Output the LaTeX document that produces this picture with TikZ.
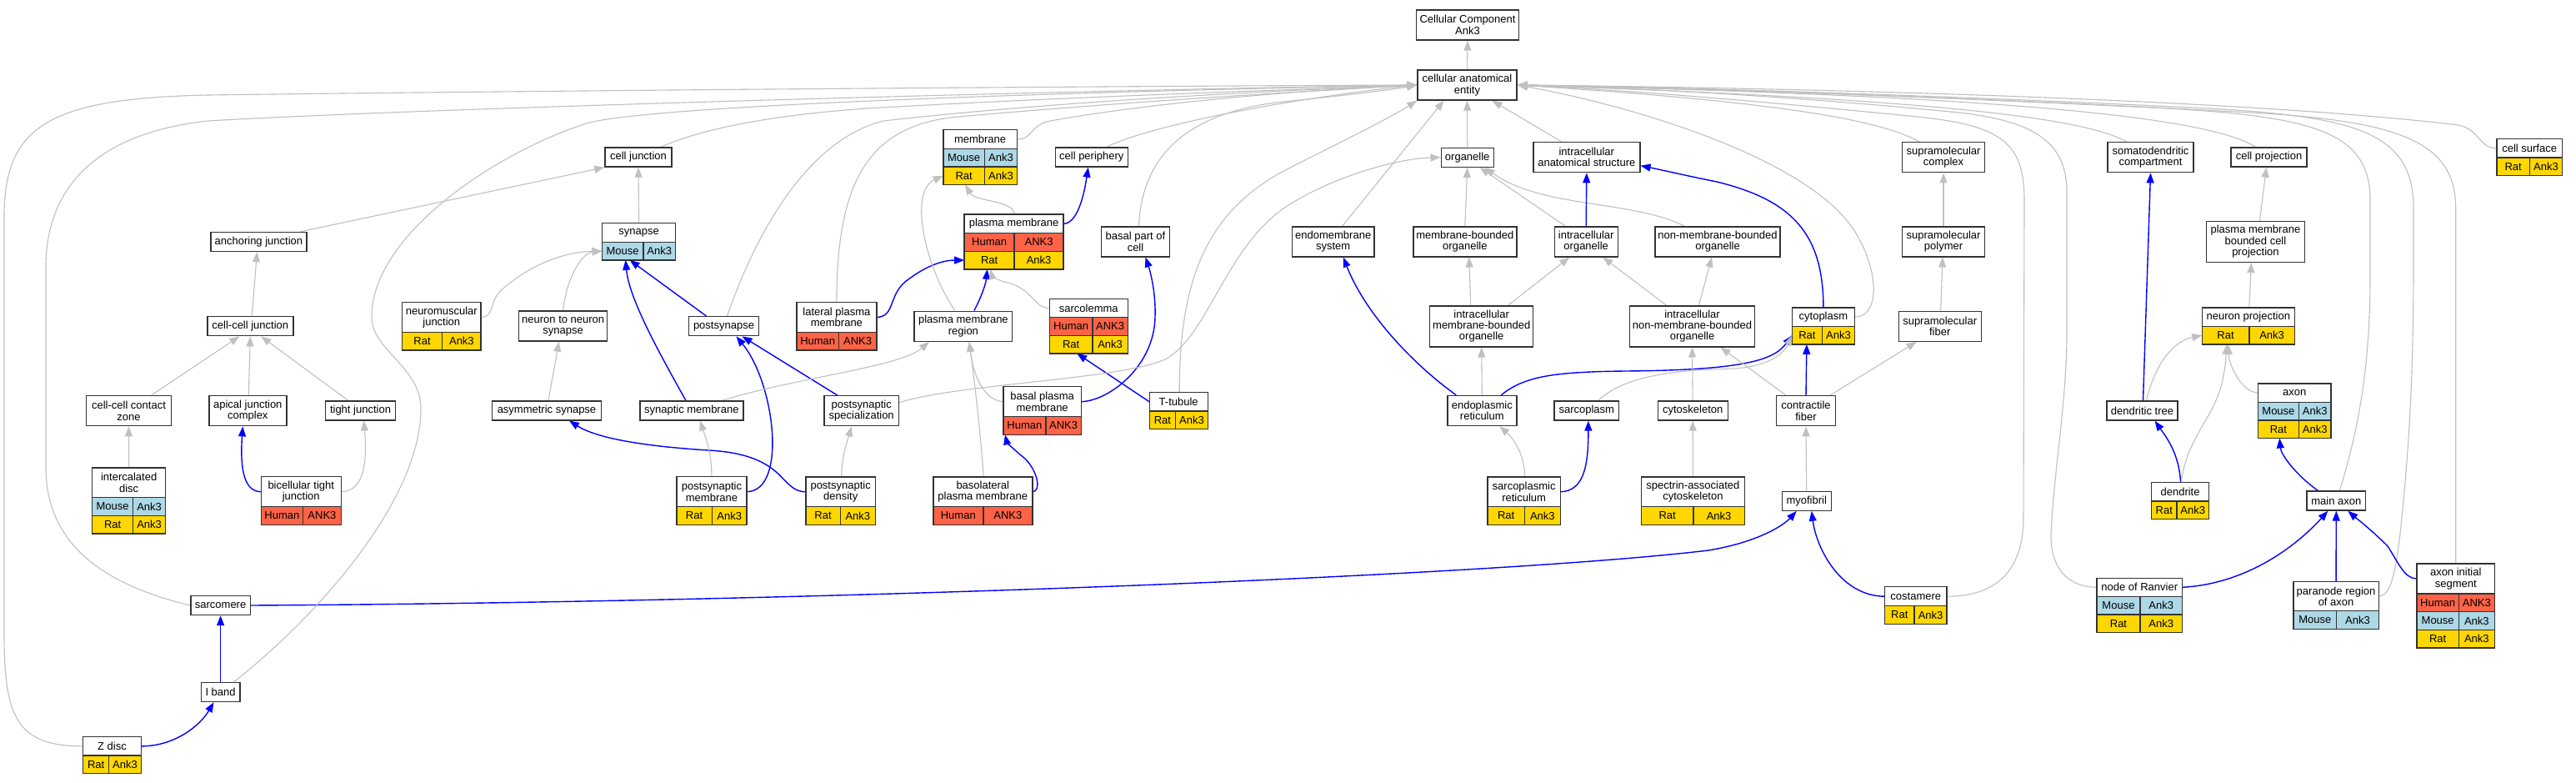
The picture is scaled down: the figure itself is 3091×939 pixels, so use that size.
\documentclass[tikz,border=0pt]{standalone}
\usepackage{fontspec}
\setmainfont{Liberation Sans}
\usetikzlibrary{arrows.meta,calc}
\definecolor{bord}{HTML}{333333}
\definecolor{edgegray}{HTML}{C0C0C0}
\definecolor{mouse}{HTML}{ADD8E6}
\definecolor{rat}{HTML}{FFD700}
\definecolor{human}{HTML}{FF6347}
\definecolor{eblue}{HTML}{0000FF}
\newcommand{\lbl}{\fontsize{13}{13.3}\selectfont}
\def\rowh{21.6}
\pgfdeclarelayer{bg}
\pgfdeclarelayer{edges}
\pgfsetlayers{bg,edges,main}
\tikzset{
 box/.style={draw=bord, line width=1.4pt, fill=white, inner sep=0pt, align=center, font=\lbl},
 txt/.style={inner sep=0pt, align=center, font=\lbl},
 cellbox/.style={draw=bord, line width=1.4pt},
 isa/.style={draw=edgegray, line width=1.1pt, -{Triangle[length=12pt,width=9pt]}},
 partof/.style={draw=eblue, line width=1.4pt, -{Triangle[length=12pt,width=9pt]}},
}
% name, left, right, top, header height, header text, split x, rows
\newcommand{\tbl}[8]{%
 \foreach [count=\k] \x in {#8} {\xdef\mynr{\k}}%
 \pgfmathsetmacro{\mybot}{#4+#5+\mynr*\rowh}%
 \pgfmathsetmacro{\myw}{#3-#2}%
 \pgfmathsetmacro{\myh}{#5+\mynr*\rowh}%
 \node[inner sep=0pt, outer sep=0pt, minimum width=\myw, minimum height=\myh, anchor=north west] (#1) at (#2,#4) {};%
 \fill[white] (#2,#4) rectangle (#3,{#4+#5});%
 \node[txt] at ({(#2+#3)/2},{#4+#5/2}) {#6};%
 \coordinate (#1-w0) at (#2,{#4+#5/2});%
 \coordinate (#1-e0) at (#3,{#4+#5/2});%
 \foreach [count=\i] \spc/\gnm/\clr in {#8} {%
   \pgfmathsetmacro{\ya}{#4+#5+(\i-1)*\rowh}%
   \pgfmathsetmacro{\yb}{\ya+\rowh}%
   \filldraw[cellbox, fill=\clr] (#2,\ya) rectangle (#7,\yb);%
   \filldraw[cellbox, fill=\clr] (#7,\ya) rectangle (#3,\yb);%
   \node[txt] at ({(#2+#7)/2},{(\ya+\yb)/2}) {\spc};%
   \node[txt] at ({(#7+#3)/2},{(\ya+\yb)/2}) {\gnm};%
   \coordinate (#1-w\i) at (#2,{(\ya+\yb)/2});%
   \coordinate (#1-e\i) at (#3,{(\ya+\yb)/2});%
 }%
 \draw[cellbox] (#2,#4) rectangle (#3,\mybot);%
}
\begin{document}
\begin{tikzpicture}[x=1pt,y=-1pt]
\useasboundingbox (0,0) rectangle (3091,939);
\begin{pgfonlayer}{bg}
\fill[white] (0,0) rectangle (3091,939);
\end{pgfonlayer}

% ---------- simple nodes ----------
\node[box, minimum width=123, minimum height=36] (cc) at (1761,30) {Cellular Component\\Ank3};
\node[box, minimum width=119, minimum height=36] (cae) at (1760.5,102) {cellular anatomical\\entity};
\node[box, minimum width=80, minimum height=23] (celljunction) at (766,188.5) {cell junction};
\node[box, minimum width=115, minimum height=23] (anchoring) at (310.4,290) {anchoring junction};
\node[box, minimum width=103, minimum height=23] (cellcell) at (300.3,391.2) {cell-cell junction};
\node[box, minimum width=102, minimum height=36] (contactzone) at (154.5,492.7) {cell-cell contact\\zone};
\node[box, minimum width=93, minimum height=36] (apical) at (297.3,492.7) {apical junction\\complex};
\node[box, minimum width=84, minimum height=23] (tight) at (432.5,492.3) {tight junction};
\node[box, minimum width=106, minimum height=36] (nnsyn) at (675.7,391) {neuron to neuron\\synapse};
\node[box, minimum width=84, minimum height=23] (postsynapse) at (868.5,391.2) {postsynapse};
\node[box, minimum width=131, minimum height=23] (asym) at (656,492.3) {asymmetric synapse};
\node[box, minimum width=124, minimum height=23] (synmem) at (829.8,492.3) {synaptic membrane};
\node[box, minimum width=89.5, minimum height=36] (psspec) at (1033.7,492.7) {postsynaptic\\specialization};
\node[box, minimum width=87, minimum height=23] (cellperiph) at (1309.8,188.5) {cell periphery};
\node[box, minimum width=82, minimum height=36] (basalpart) at (1362.5,289.8) {basal part of\\cell};
\node[box, minimum width=117.5, minimum height=36] (pmregion) at (1155.9,391.2) {plasma membrane\\region};
\node[box, minimum width=63, minimum height=23] (organelle) at (1760.7,188.7) {organelle};
\node[box, minimum width=128, minimum height=36] (ias) at (1903.8,188.7) {intracellular\\anatomical structure};
\node[box, minimum width=98.7, minimum height=36] (endomem) at (1599.7,289.8) {endomembrane\\system};
\node[box, minimum width=124, minimum height=36] (mbo) at (1757.8,289.8) {membrane-bounded\\organelle};
\node[box, minimum width=76, minimum height=36] (io) at (1903.2,289.8) {intracellular\\organelle};
\node[box, minimum width=150, minimum height=36] (nmbo) at (2061,289.8) {non-membrane-bounded\\organelle};
\node[box, minimum width=124, minimum height=49] (imbo) at (1777.7,391.3) {intracellular\\membrane-bounded\\organelle};
\node[box, minimum width=150, minimum height=49] (inmbo) at (2030.5,391.3) {intracellular\\non-membrane-bounded\\organelle};
\node[box, minimum width=99, minimum height=36] (supcomplex) at (2332,188.7) {supramolecular\\complex};
\node[box, minimum width=99, minimum height=36] (suppolymer) at (2332,289.8) {supramolecular\\polymer};
\node[box, minimum width=99, minimum height=36] (supfiber) at (2327.7,391.2) {supramolecular\\fiber};
\node[box, minimum width=103, minimum height=36] (somato) at (2580.5,188.7) {somatodendritic\\compartment};
\node[box, minimum width=91, minimum height=23] (cellproj) at (2722.5,188.5) {cell projection};
\node[box, minimum width=118, minimum height=49] (pmbcp) at (2706.4,289.8) {plasma membrane\\bounded cell\\projection};
\node[box, minimum width=83, minimum height=36] (er) at (1778.3,492.5) {endoplasmic\\reticulum};
\node[box, minimum width=77.7, minimum height=23] (sarcoplasm) at (1903.8,492.5) {sarcoplasm};
\node[box, minimum width=84, minimum height=23] (cytoskeleton) at (2031.2,492.5) {cytoskeleton};
\node[box, minimum width=70.7, minimum height=36] (contractile) at (2167,492.7) {contractile\\fiber};
\node[box, minimum width=59, minimum height=23] (myofibril) at (2167.7,600.7) {myofibril};
\node[box, minimum width=85, minimum height=23] (dtree) at (2570.5,492.5) {dendritic tree};
\node[box, minimum width=70.6, minimum height=23] (mainaxon) at (2803.3,600.5) {main axon};
\node[box, minimum width=71.5, minimum height=23] (sarcomere) at (264.6,726) {sarcomere};
\node[box, minimum width=46.5, minimum height=23] (iband) at (264.6,830) {I band};

% ---------- table nodes ----------
\tbl{membrane}{1131.8}{1220.4}{155.7}{22.6}{membrane}{1181.4}{Mouse/Ank3/mouse, Rat/Ank3/rat}
\tbl{plasmamem}{1157.1}{1276.1}{257}{22.7}{plasma membrane}{1217.1}{Human/ANK3/human, Rat/Ank3/rat}
\tbl{sarcolemma}{1259.3}{1353.2}{358.7}{22}{sarcolemma}{1311}{Human/ANK3/human, Rat/Ank3/rat}
\tbl{lateralpm}{956}{1051.8}{362.7}{35.6}{lateral plasma\\membrane}{1006.4}{Human/ANK3/human}
\tbl{synapse}{722.5}{810.7}{267.7}{22.6}{synapse}{771.8}{Mouse/Ank3/mouse}
\tbl{nmj}{482.5}{577.1}{362.7}{35.6}{neuromuscular\\junction}{530.7}{Rat/Ank3/rat}
\tbl{intercalated}{110.7}{198.6}{561}{35.7}{intercalated\\disc}{159.6}{Mouse/Ank3/mouse, Rat/Ank3/rat}
\tbl{bicellular}{313.2}{409.3}{571.7}{36}{bicellular tight\\junction}{363.6}{Human/ANK3/human}
\tbl{psmem}{811.8}{896.1}{571.7}{36}{postsynaptic\\membrane}{854.3}{Rat/Ank3/rat}
\tbl{psd}{966.8}{1050.5}{572}{35.7}{postsynaptic\\density}{1008.2}{Rat/Ank3/rat}
\tbl{basalpm}{1204}{1297.3}{463.7}{36}{basal plasma\\membrane}{1254.8}{Human/ANK3/human}
\tbl{basolateral}{1119.8}{1238.8}{572}{35.7}{basolateral\\plasma membrane}{1179.8}{Human/ANK3/human}
\tbl{ttubule}{1379.2}{1449.2}{470.7}{22.3}{T-tubule}{1410.6}{Rat/Ank3/rat}
\tbl{sr}{1785}{1872.2}{572}{35.7}{sarcoplasmic\\reticulum}{1829.4}{Rat/Ank3/rat}
\tbl{spectrin}{1969.4}{2093.4}{572}{35.7}{spectrin-associated\\cytoskeleton}{2031.8}{Rat/Ank3/rat}
\tbl{cytoplasm}{2150.4}{2225.4}{369}{22.3}{cytoplasm}{2186.4}{Rat/Ank3/rat}
\tbl{costamere}{2261.4}{2336.1}{703.7}{23}{costamere}{2297.1}{Rat/Ank3/rat}
\tbl{neuronproj}{2642.3}{2753.3}{369}{22.3}{neuron projection}{2698.8}{Rat/Ank3/rat}
\tbl{cellsurface}{2995.8}{3074.5}{166.7}{22.3}{cell surface}{3035.5}{Rat/Ank3/rat}
\tbl{axon}{2709.4}{2797}{460}{22.3}{axon}{2758.4}{Mouse/Ank3/mouse, Rat/Ank3/rat}
\tbl{dendrite}{2581.6}{2650.5}{578.7}{22.3}{dendrite}{2611.9}{Rat/Ank3/rat}
\tbl{ranvier}{2516}{2618.5}{693.3}{22}{node of Ranvier}{2567.9}{Mouse/Ank3/mouse, Rat/Ank3/rat}
\tbl{paranode}{2751.8}{2854.3}{697.3}{35.4}{paranode region\\of axon}{2803.7}{Mouse/Ank3/mouse}
\tbl{ais}{2900}{2993.4}{676}{36}{axon initial\\segment}{2950.3}{Human/ANK3/human, Mouse/Ank3/mouse, Rat/Ank3/rat}
\tbl{zdisc}{99.6}{169.3}{883.7}{22.3}{Z disc}{130.7}{Rat/Ank3/rat}

% ---------- edges ----------
\begin{pgfonlayer}{edges}
% top
\draw[isa] (cae.north) -- (cc.south);
% junction branch
\draw[isa] ($(anchoring.north)+(50,0)$) -- (celljunction.south west);
\draw[isa] ($(cellcell.north)+(2,0)$) -- ($(anchoring.south)+(-2,0)$);
\draw[isa] ($(contactzone.north)+(27,0)$) -- ($(cellcell.south)+(-13,0)$);
\draw[isa] ($(apical.north)+(1,0)$) -- (cellcell.south);
\draw[isa] ($(tight.north)+(-15,0)$) -- ($(cellcell.south)+(13,0)$);
\draw[isa] (intercalated.north) -- (contactzone.south);
\draw[partof] (bicellular-w0) .. controls (292,589.7) and (288,560) .. ($(apical.south)+(-6,0)$);
\draw[isa] (bicellular-e0) .. controls (440,589.7) and (440,545) .. ($(tight.south)+(4,0)$);
% synapse branch
\draw[isa] (synapse.north) -- (celljunction.south);
\draw[isa] (nmj-e0) .. controls (595,380) and (585,360) .. (605,345) .. controls (640,315) and (680,302) .. (synapse-w1);
\draw[isa] (nnsyn.north) .. controls (680,330) and (700,303) .. (synapse-w1);
\draw[isa] ($(asym.north)+(2,0)$) -- ($(nnsyn.south)+(-5,0)$);
\draw[partof] ($(synmem.north)+(-7,0)$) .. controls (795,430) and (755,360) .. ($(synapse.south)+(-16,0)$);
\draw[partof] ($(postsynapse.north)+(-21,0)$) -- ($(synapse.south)+(-11,0)$);
\draw[partof] ($(psspec.north)+(-29,0)$) -- ($(postsynapse.south)+(22,0)$);
\draw[partof] (psmem-e0) .. controls (945,589) and (930,460) .. ($(postsynapse.south)+(15,0)$);
\draw[partof] (psd-w0) .. controls (935,589.5) and (945,545) .. (850,540) .. controls (770,535) and (715,525) .. ($(asym.south)+(27,0)$);
\draw[isa] ($(psd.north)+(1,0)$) .. controls (1010,545) and (1018,525) .. ($(psspec.south)+(-12,0)$);
\draw[isa] ($(psmem.north)+(0,0)$) .. controls (854,540) and (845,520) .. ($(synmem.south)+(10,0)$);
\draw[isa] ($(synmem.north)+(37,0)$) .. controls (960,452) and (1080,440) .. ($(pmregion.south)+(-41,0)$);
% membranes
\draw[partof] (lateralpm-e0) .. controls (1075,380) and (1065,352) .. (1090,335) .. controls (1110,320) and (1130,312) .. (plasmamem-w2);
\draw[partof] ($(pmregion.north)+(13,0)$) .. controls (1178,355) and (1183,340) .. ($(plasmamem.south)+(-32,0)$);
\draw[isa] ($(pmregion.north)+(-10,0)$) .. controls (1110,320) and (1090,230) .. (membrane-w2);
\draw[isa] ($(plasmamem.north)+(0.5,0)$) .. controls (1217,240) and (1170,242) .. ($(membrane.south)+(-18,0)$);
\draw[partof] (plasmamem-e0) .. controls (1295,268) and (1302,225) .. ($(cellperiph.south)+(-4,0)$);
\draw[isa] (sarcolemma-w0) .. controls (1240,370) and (1240,345) .. (1205,338) .. controls (1195,335) and (1190,330) .. ($(plasmamem.south)+(-28,0)$);
\draw[partof] (ttubule-w0) -- ($(sarcolemma.south)+(-14,0)$);
\draw[partof] (basalpm-e0) .. controls (1330,481) and (1385,440) .. (1386,380) .. controls (1387,350) and (1380,325) .. ($(basalpart.south)+(12,0)$);
\draw[isa] (basalpm-w0) .. controls (1180,480) and (1168,450) .. ($(pmregion.south)+(7,0)$);
\draw[isa] ($(basolateral.north)+(1,0)$) .. controls (1175,500) and (1167,440) .. ($(pmregion.south)+(7,0)$);
\draw[partof] (basolateral-e0) .. controls (1250,589) and (1245,565) .. (1230,550) .. controls (1215,538) and (1208,530) .. ($(basalpm.south west)+(2,0)$);
\draw[isa] ($(psspec.east)+(0,-10)$) .. controls (1150,460) and (1350,455) .. (1400,430) .. controls (1450,400) and (1470,300) .. (1540,250) .. controls (1600,210) and (1680,190) .. (organelle.west);
% organelles
\draw[isa] (organelle.north) -- (cae.south);
\draw[isa] ($(ias.north)+(-30,0)$) -- ($(cae.south)+(30,0)$);
\draw[isa] ($(endomem.north)+(11,0)$) -- ($(cae.south)+(-28,0)$);
\draw[isa] (mbo.north) -- (organelle.south);
\draw[isa] ($(io.north)+(-25,0)$) -- ($(organelle.south)+(15,0)$);
\draw[isa] ($(nmbo.north)+(-40,0)$) .. controls (1960,240) and (1850,250) .. ($(organelle.south)+(21,0)$);
\draw[partof] (io.north) -- (ias.south);
\draw[isa] ($(imbo.north)+(-13,0)$) -- ($(mbo.south)+(5,0)$);
\draw[isa] ($(imbo.north)+(32,0)$) -- ($(io.south)+(-20,0)$);
\draw[isa] ($(inmbo.north)+(-31,0)$) -- ($(io.south)+(20,0)$);
\draw[isa] ($(inmbo.north)+(8,0)$) -- ($(nmbo.south)+(-7,0)$);
\draw[isa] (er.north) -- (imbo.south);
\draw[partof] ($(er.north)+(-31,0)$) .. controls (1700,440) and (1640,380) .. ($(endomem.south)+(12,0)$);
\draw[partof] ($(er.north)+(23,0)$) .. controls (1830,450) and (1870,446) .. (1950,445) .. controls (2100,444) and (2130,430) .. (cytoplasm-w1);
\draw[isa] ($(sarcoplasm.north)+(14,0)$) .. controls (1950,450) and (2010,444) .. (2080,442) .. controls (2120,440) and (2140,425) .. (cytoplasm-w1);
\draw[isa] ($(sr.north)+(1,0)$) .. controls (1830,545) and (1815,525) .. ($(er.south)+(21,0)$);
\draw[partof] (sr-e0) .. controls (1900,589) and (1906,560) .. ($(sarcoplasm.south)+(2,0)$);
\draw[isa] (cytoskeleton.north) -- (inmbo.south);
\draw[isa] (spectrin.north) -- (cytoskeleton.south);
\draw[partof] (contractile.north) -- ($(cytoplasm.south)+(-20,0)$);
\draw[isa] ($(contractile.north)+(-24,0)$) -- ($(inmbo.south)+(34,0)$);
\draw[isa] ($(contractile.north)+(29,0)$) -- ($(supfiber.south)+(-28,0)$);
\draw[isa] (myofibril.north) -- (contractile.south);
\draw[partof] (costamere-w0) .. controls (2210,715) and (2180,660) .. ($(myofibril.south)+(6,0)$);
\draw[partof] (sarcomere.east) .. controls (1000,722) and (1800,690) .. (2050,660) .. controls (2110,650) and (2140,630) .. ($(myofibril.south)+(-12,0)$);
\draw[partof] (iband.north) -- (sarcomere.south);
\draw[partof] (zdisc-e0) .. controls (210,895) and (240,870) .. ($(iband.south)+(-8,0)$);
% long lines to cellular anatomical entity (left)
\draw[isa] (zdisc-w0) .. controls (20,895) and (5,860) .. (5,760) -- (5,260) .. controls (5,150) and (60,118) .. (250,114) .. controls (700,108) and (1400,103) .. (cae.west);
\draw[isa] (sarcomere.west) .. controls (120,700) and (55,650) .. (55,560) -- (55,320) .. controls (55,230) and (110,160) .. (250,145) .. controls (500,130) and (1300,108) .. (cae.west);
\draw[isa] ($(iband.north)+(16,0)$) .. controls (380,740) and (505,600) .. (505,490) .. controls (505,440) and (446,420) .. (446,380) .. controls (446,280) and (600,180) .. (707,147) .. controls (800,125) and (1300,110) .. (cae.west);
\draw[isa] ($(celljunction.north)+(27,0)$) .. controls (830,160) and (900,140) .. (1040,130) .. controls (1300,115) and (1600,106) .. (cae.west);
\draw[isa] (lateralpm.north) .. controls (1004,220) and (1040,150) .. (1150,140) .. controls (1400,118) and (1600,108) .. (cae.west);
\draw[isa] ($(postsynapse.north)+(4,0)$) .. controls (900,300) and (960,170) .. (1060,145) .. controls (1300,118) and (1600,106) .. (cae.west);
\draw[isa] (membrane-e0) .. controls (1240,167) and (1235,150) .. (1260,145) .. controls (1400,120) and (1600,106) .. (cae.west);
\draw[isa] ($(cellperiph.north)+(18,0)$) .. controls (1380,150) and (1550,118) .. (cae.west);
\draw[isa] ($(basalpart.north)+(4,0)$) .. controls (1370,190) and (1420,135) .. (1540,122) .. controls (1620,114) and (1680,106) .. (cae.west);
\draw[isa] ($(ttubule.north)+(1,0)$) .. controls (1415,330) and (1450,250) .. (1550,200) .. controls (1620,165) and (1670,140) .. (cae.south west);
% right side
\draw[isa] (cytoplasm-e0) .. controls (2255,380) and (2255,330) .. (2230,285) .. controls (2180,190) and (1950,125) .. (cae.east);
\draw[partof] (cytoplasm.north) .. controls (2188,280) and (2150,240) .. (2060,218) .. controls (2020,210) and (1995,204) .. ($(ias.east)+(0,10)$);
\draw[isa] ($(supcomplex.north)+(-29,0)$) .. controls (2250,140) and (2100,120) .. (cae.east);
\draw[isa] (suppolymer.north) -- (supcomplex.south);
\draw[isa] ($(supfiber.north)+(1,0)$) -- ($(suppolymer.south)+(-1,0)$);
\draw[isa] ($(somato.north)+(-29,0)$) .. controls (2500,140) and (2300,118) .. (cae.east);
\draw[partof] ($(dtree.north)+(1,0)$) -- (somato.south);
\draw[isa] ($(cellproj.north)+(-16,0)$) .. controls (2650,140) and (2400,115) .. (cae.east);
\draw[isa] ($(pmbcp.north)+(5,0)$) -- ($(cellproj.south)+(-3,0)$);
\draw[isa] ($(neuronproj.north)+(1,0)$) -- ($(pmbcp.south)+(-5,0)$);
\draw[isa] (cellsurface-w0) .. controls (2975,178) and (2975,155) .. (2950,150) .. controls (2700,120) and (2200,106) .. (cae.east);
\draw[isa] ($(mainaxon.north)+(4,0)$) .. controls (2835,500) and (2844,420) .. (2844,330) -- (2844,240) .. controls (2844,160) and (2780,140) .. (2600,130) .. controls (2300,115) and (2000,105) .. (cae.east);
\draw[isa] (paranode-e0) .. controls (2870,715) and (2875,680) .. (2880,640) .. controls (2895,500) and (2896,400) .. (2896,300) -- (2896,250) .. controls (2896,160) and (2830,140) .. (2650,130) .. controls (2350,115) and (2000,104) .. (cae.east);
\draw[isa] (ais.north) -- (2946.7,250) .. controls (2946.7,170) and (2880,145) .. (2700,135) .. controls (2400,118) and (2000,104) .. (cae.east);
\draw[isa] (ranvier-w0) .. controls (2480,704) and (2460,680) .. (2461,640) .. controls (2465,560) and (2480,480) .. (2480,400) -- (2480,230) .. controls (2480,170) and (2440,145) .. (2350,135) .. controls (2200,120) and (2000,106) .. (cae.east);
\draw[isa] (costamere-e0) .. controls (2400,715) and (2428,680) .. (2428,620) -- (2429,240) .. controls (2429,170) and (2400,150) .. (2300,140) .. controls (2100,120) and (1950,108) .. (cae.east);
\draw[partof] ($(mainaxon.north)+(-22,0)$) .. controls (2755,570) and (2737,545) .. ($(axon.south)+(-18,0)$);
\draw[partof] (ranvier-e0) .. controls (2700,700) and (2760,650) .. ($(mainaxon.south)+(-10,0)$);
\draw[partof] (paranode.north) -- (mainaxon.south);
\draw[partof] (ais-w0) .. controls (2885,694) and (2878,675) .. (2865,655) .. controls (2845,635) and (2828,622) .. ($(mainaxon.south)+(14,0)$);
\draw[partof] ($(dendrite.north)+(0.5,0)$) .. controls (2615,545) and (2600,525) .. ($(dtree.south)+(15,0)$);
\draw[isa] ($(dendrite.north)+(1,0)$) .. controls (2625,520) and (2660,500) .. (2668,450) .. controls (2671,435) and (2671,425) .. ($(neuronproj.south)+(-26,0)$);
\draw[isa] ($(dtree.north)+(5,0)$) .. controls (2585,440) and (2605,410) .. (neuronproj-w1);
\draw[isa] (axon-w0) .. controls (2690,470) and (2675,440) .. ($(neuronproj.south)+(-24,0)$);
\end{pgfonlayer}
\end{tikzpicture}
\end{document}
